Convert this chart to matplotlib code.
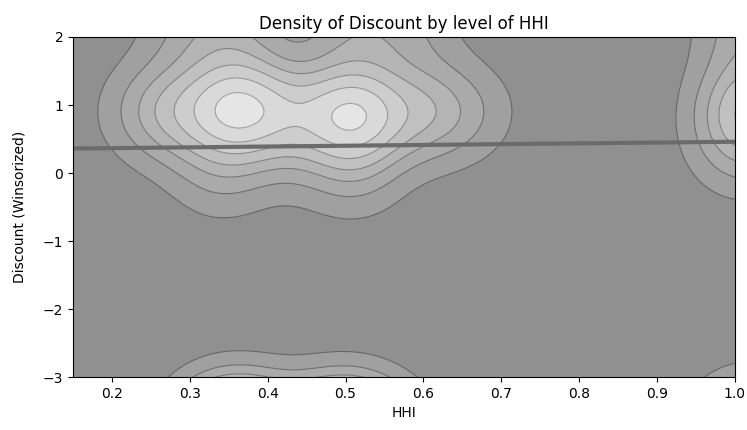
import numpy as np
import matplotlib
matplotlib.use('Agg')
import matplotlib.pyplot as plt

# pseudo-sample: HHI, winsorized discount, weight
hhi = [0.36, 0.51, 0.43, 0.28, 0.60, 0.24, 0.66, 0.34, 0.51, 0.43, 0.36, 0.51, 0.30, 0.58,
       0.36, 0.50, 0.43, 0.32, 0.55,
       1.02, 1.01, 1.02, 1.02]
disc = [0.95, 0.86, 0.90, 0.9, 0.9, 0.9, 0.9, 0.05, 0.05, 0.3, 2.1, 2.1, 2.1, 2.1,
        -3.85, -3.85, -3.85, -3.85, -3.85,
        0.95, 0.35, 2.1, -3.85]
wts = [1.0, 1.0, 0.40, 0.40, 0.40, 0.12, 0.15, 0.22, 0.22, 0.10, 0.25, 0.25, 0.18, 0.18,
       1.6, 1.5, 0.5, 0.25, 0.3,
       0.65, 0.22, 0.30, 0.9]

# regression line ends
fit_x = [0.15, 1.0]
fit_y = [0.36, 0.46]

bw_x, bw_y = 0.045, 0.5

gx = np.linspace(0.1, 1.05, 300)
gy = np.linspace(-3.6, 2.6, 300)
X, Y = np.meshgrid(gx, gy)
Z = np.zeros_like(X)
for px, py, w in zip(hhi, disc, wts):
    Z += w * np.exp(-0.5 * (((X - px) / bw_x) ** 2 + ((Y - py) / bw_y) ** 2))

# levels relative to the main peak
zmax = Z[gy > -1].max()
fracs = [0, 0.07, 0.18, 0.30, 0.42, 0.56, 0.72, 0.9]
levels = list(zmax * np.array(fracs)) + [Z.max() * 1.01]
fill_cols = ['#909090', '#a0a0a0', '#aaaaaa', '#b4b4b4', '#c0c0c0',
             '#cdcdcd', '#d9d9d9', '#e5e5e5']
line_cols = ['#666666', '#6e6e6e', '#787878', '#828282', '#8c8c8c', '#969696', '#a0a0a0']

fig = plt.figure(figsize=(7.47, 4.30), dpi=100)
ax = fig.add_axes([0.0977, 0.123, 0.886, 0.791])
ax.contourf(X, Y, Z, levels=levels, colors=fill_cols)
ax.contour(X, Y, Z, levels=levels[1:-1], colors=line_cols, linewidths=0.8)
ax.plot(fit_x, fit_y, color='#6b6b6b', linewidth=3)

ax.set_xlim(0.15, 1.0)
ax.set_ylim(-3, 2)
ax.set_xticks([0.2, 0.3, 0.4, 0.5, 0.6, 0.7, 0.8, 0.9, 1.0])
ax.set_yticks([-3, -2, -1, 0, 1, 2])
ax.set_title('Density of Discount by level of HHI')
ax.set_xlabel('HHI')
ax.set_ylabel('Discount (Winsorized)', labelpad=12)

fig.savefig('out.png', dpi=100)
